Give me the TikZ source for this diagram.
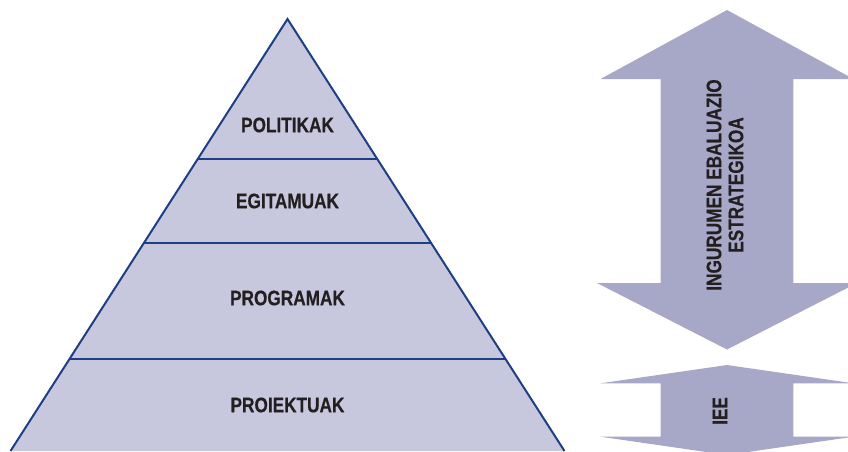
\documentclass[tikz,border=0pt]{standalone}
\usepackage{fontspec}
\setmainfont{Liberation Sans}[FakeStretch=0.82, BoldFeatures={FakeBold=0.4}]
\usetikzlibrary{calc}
\definecolor{levelfill}{HTML}{C7C7DD}
\definecolor{levelline}{HTML}{1F3F85}
\definecolor{arrowfill}{HTML}{A7A8C8}
\definecolor{labeltext}{HTML}{231F20}
\tikzset{
  levellabel/.style={font=\fontsize{21}{22}\selectfont\bfseries, text=labeltext},
  arrowlabel/.style={levellabel, rotate=90, align=center}
}

\begin{document}
\begin{tikzpicture}[x=1pt, y=-1pt]
\useasboundingbox (0,0) rectangle (848,451);
\coordinate (apex) at (287.5,19);
\coordinate (bl) at (10.5,451);
\coordinate (br) at (564.5,451);
\fill[levelfill] (apex) -- (bl) -- (br) -- cycle;
\foreach \t [count=\i] in {0.3234,0.5185,0.7859}
  \draw[levelline, line width=2pt] ($(apex)!\t!(bl)$) coordinate (l\i) -- ($(apex)!\t!(br)$) coordinate (r\i);
\draw[levelline, line width=2pt] (bl) -- (apex) -- (br);
\node[levellabel] (politikak) at (287.5,125) {POLITIKAK};
\node[levellabel] (egitamuak) at (287.5,201) {EGITAMUAK};
\node[levellabel] (programak) at (287.5,298) {PROGRAMAK};
\node[levellabel] (proiektuak) at (287.5,405) {PROIEKTUAK};
\fill[arrowfill] (727,10) -- (853.5,79) -- (793.3,79) -- (793.3,283) -- (857,283) -- (727,349.5)
  -- (597,283) -- (660.7,283) -- (660.7,79) -- (600.5,79) -- cycle;
\fill[arrowfill] (727,365) -- (853.5,383.3) -- (793.3,383.3) -- (793.3,436.7) -- (853.5,436.7) -- (727,455)
  -- (600.5,436.7) -- (660.7,436.7) -- (660.7,383.3) -- (600.5,383.3) -- cycle;
\node[arrowlabel] (iee1) at (725,185) {INGURUMEN EBALUAZIO\\ESTRATEGIKOA};
\node[arrowlabel] (iee2) at (720,411) {IEE};
\end{tikzpicture}
\end{document}
